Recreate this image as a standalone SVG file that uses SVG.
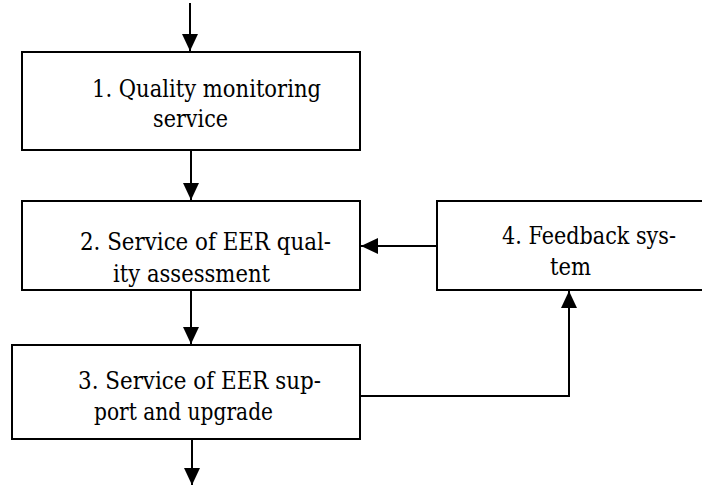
<svg xmlns="http://www.w3.org/2000/svg" width="702" height="488" viewBox="0 0 702 488">
<style>
.box{fill:#fff;stroke:#000;stroke-width:2}
.conn{fill:none;stroke:#000;stroke-width:2}
.lbl{font-family:"DejaVu Serif",serif;font-size:23.5px;fill:#000}
</style>
<defs>
<marker id="ah" markerUnits="userSpaceOnUse" markerWidth="18" markerHeight="16" refX="17" refY="8" orient="auto" viewBox="0 0 18 16">
<path d="M0,0 L17,8 L0,16 Z" fill="#000"/>
</marker>
</defs>
<rect width="702" height="488" fill="#fff"/>
<g id="connectors">
<line class="conn" x1="190" y1="3" x2="190" y2="51" marker-end="url(#ah)"/>
<line class="conn" x1="191" y1="151" x2="191" y2="200" marker-end="url(#ah)"/>
<line class="conn" x1="191" y1="291" x2="191" y2="344" marker-end="url(#ah)"/>
<line class="conn" x1="192" y1="440" x2="192" y2="485" marker-end="url(#ah)"/>
<line class="conn" x1="437" y1="246" x2="361" y2="246" marker-end="url(#ah)"/>
<polyline class="conn" points="361,396 569,396 569,291" marker-end="url(#ah)"/>
</g>
<g id="node1">
<rect class="box" x="22" y="52" width="338" height="98"/>
<text class="lbl" x="92" y="97" textLength="229" lengthAdjust="spacingAndGlyphs">1. Quality monitoring</text>
<text class="lbl" x="153" y="127" textLength="75" lengthAdjust="spacingAndGlyphs">service</text>
</g>
<g id="node2">
<rect class="box" x="22" y="201" width="338" height="89"/>
<text class="lbl" x="80" y="250" textLength="251" lengthAdjust="spacingAndGlyphs">2. Service of EER qual-</text>
<text class="lbl" x="113" y="282" textLength="157" lengthAdjust="spacingAndGlyphs">ity assessment</text>
</g>
<g id="node3">
<rect class="box" x="12" y="345" width="348" height="94"/>
<text class="lbl" x="78" y="389" textLength="243" lengthAdjust="spacingAndGlyphs">3. Service of EER sup-</text>
<text class="lbl" x="94" y="420" textLength="179" lengthAdjust="spacingAndGlyphs">port and upgrade</text>
</g>
<g id="node4">
<rect class="box" x="437" y="201" width="275" height="89"/>
<text class="lbl" x="502" y="244" textLength="174" lengthAdjust="spacingAndGlyphs">4. Feedback sys-</text>
<text class="lbl" x="550" y="275" textLength="41" lengthAdjust="spacingAndGlyphs">tem</text>
</g>
</svg>
